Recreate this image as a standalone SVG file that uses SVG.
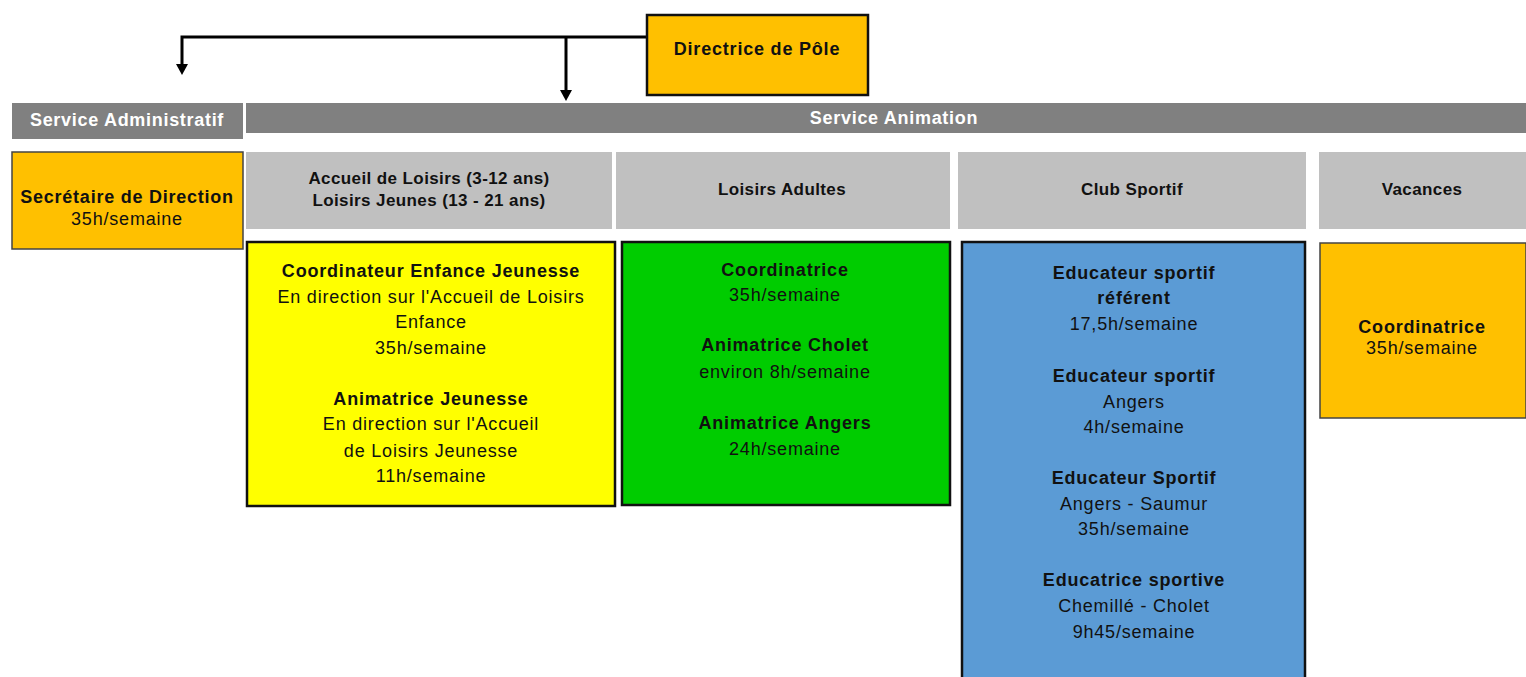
<svg xmlns="http://www.w3.org/2000/svg" width="1526" height="677" viewBox="0 0 1526 677">
<style>
text{font-family:"Liberation Sans",Arial,sans-serif;text-anchor:middle;fill:#111}
.b{font-weight:bold}
.t{font-size:18px;letter-spacing:0.8px}
.h{font-size:18px;letter-spacing:0.7px;font-weight:bold;fill:#fff}
.g{font-size:17px;letter-spacing:0.4px;font-weight:bold}
.box{stroke:#111;stroke-width:2.5}
.gray{fill:#c0c0c0}
.dark{fill:#808080}
.conn{fill:none;stroke:#000;stroke-width:3}
</style>
<rect width="1526" height="677" fill="#fff"/>
<g id="connectors">
<path class="conn" d="M646,37 H182 V66"/>
<path d="M176,64 L188,64 L182,75 Z" fill="#000"/>
<path class="conn" d="M566,37 V92"/>
<path d="M560,90 L572,90 L566,101 Z" fill="#000"/>
</g>
<g id="directrice">
<rect class="box" x="647" y="15" width="221" height="80" fill="#FFC000"/>
<text class="t b" x="757" y="55">Directrice de Pôle</text>
</g>
<g id="service-admin">
<rect class="dark" x="12" y="103" width="231" height="36"/>
<text class="h" x="127" y="126">Service Administratif</text>
</g>
<g id="service-animation">
<rect class="dark" x="246" y="103" width="1280" height="30"/>
<text class="h" x="894" y="124">Service Animation</text>
</g>
<g id="secretaire">
<rect x="12" y="152" width="231" height="97" fill="#FFC000" stroke="#444" stroke-width="1.5"/>
<text class="t b" x="127" y="203" style="letter-spacing:0.75px">Secrétaire de Direction</text>
<text class="t" x="127" y="225">35h/semaine</text>
</g>
<g id="hdr-accueil">
<rect class="gray" x="246" y="152" width="366" height="77"/>
<text class="g" x="429" y="184">Accueil de Loisirs (3-12 ans)</text>
<text class="g" x="429" y="206">Loisirs Jeunes (13 - 21 ans)</text>
</g>
<g id="hdr-adultes">
<rect class="gray" x="616" y="152" width="334" height="77"/>
<text class="g" x="782" y="195">Loisirs Adultes</text>
</g>
<g id="hdr-club">
<rect class="gray" x="958" y="152" width="348" height="77"/>
<text class="g" x="1132" y="195">Club Sportif</text>
</g>
<g id="hdr-vacances">
<rect class="gray" x="1319" y="152" width="207" height="77"/>
<text class="g" x="1422" y="195">Vacances</text>
</g>
<g id="enfance-jeunesse">
<rect class="box" x="247" y="242" width="368" height="264" fill="#FFFF00"/>
<text class="t b" x="431" y="277">Coordinateur Enfance Jeunesse</text>
<text class="t" x="431" y="303">En direction sur l'Accueil de Loisirs</text>
<text class="t" x="431" y="328">Enfance</text>
<text class="t" x="431" y="354">35h/semaine</text>
<text class="t b" x="431" y="405">Animatrice Jeunesse</text>
<text class="t" x="431" y="430">En direction sur  l'Accueil</text>
<text class="t" x="431" y="457">de Loisirs Jeunesse</text>
<text class="t" x="431" y="482">11h/semaine</text>
</g>
<g id="adultes">
<rect class="box" x="622" y="242" width="328" height="263" fill="#00CC00"/>
<text class="t b" x="785" y="276">Coordinatrice</text>
<text class="t" x="785" y="301">35h/semaine</text>
<text class="t b" x="785" y="351">Animatrice Cholet</text>
<text class="t" x="785" y="378">environ 8h/semaine</text>
<text class="t b" x="785" y="429">Animatrice Angers</text>
<text class="t" x="785" y="455">24h/semaine</text>
</g>
<g id="club-sportif">
<rect class="box" x="962" y="242" width="343" height="440" fill="#5B9BD5"/>
<text class="t b" x="1134" y="279">Educateur sportif</text>
<text class="t b" x="1134" y="304">référent</text>
<text class="t" x="1134" y="330">17,5h/semaine</text>
<text class="t b" x="1134" y="382">Educateur sportif</text>
<text class="t" x="1134" y="408">Angers</text>
<text class="t" x="1134" y="433">4h/semaine</text>
<text class="t b" x="1134" y="484">Educateur Sportif</text>
<text class="t" x="1134" y="510">Angers - Saumur</text>
<text class="t" x="1134" y="535">35h/semaine</text>
<text class="t b" x="1134" y="586">Educatrice sportive</text>
<text class="t" x="1134" y="612">Chemillé - Cholet</text>
<text class="t" x="1134" y="638">9h45/semaine</text>
</g>
<g id="vacances">
<rect x="1320" y="243" width="206" height="175" fill="#FFC000" stroke="#444" stroke-width="1.5"/>
<text class="t b" x="1422" y="333">Coordinatrice</text>
<text class="t" x="1422" y="354">35h/semaine</text>
</g>
</svg>
